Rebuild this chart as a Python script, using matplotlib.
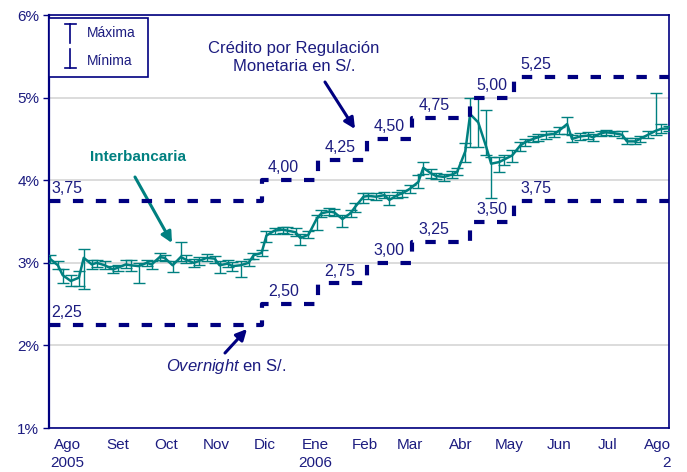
import numpy as np
import pandas as pd
import matplotlib
matplotlib.use('Agg')
import matplotlib.pyplot as plt
from matplotlib.patches import Rectangle
from matplotlib.lines import Line2D

plt.rcParams['font.family'] = ['Liberation Sans', 'DejaVu Sans']
plt.rcParams['mathtext.fontset'] = 'custom'
plt.rcParams['mathtext.it'] = 'Liberation Sans:italic'
plt.rcParams['mathtext.rm'] = 'Liberation Sans'

NAVY = '#000080'
TXT = '#1c1c80'
TEAL = '#008080'

##########################################
# Data
##########################################
# tasa interbancaria, one value every 3 business days from 21-Jul-2005
inter = [3.05, 2.97, 2.85, 2.78, 2.82, 3.06, 2.98, 3.00, 2.97, 2.92,
         2.94, 2.98, 2.97, 2.96, 3.00, 2.98, 3.07, 3.06, 2.97, 3.07,
         3.04, 3.00, 3.02, 3.06, 3.05, 2.97, 2.99, 2.96, 2.97, 3.00,
         3.09, 3.12, 3.33, 3.39, 3.40, 3.39, 3.37, 3.30, 3.34, 3.53,
         3.60, 3.62, 3.61, 3.53, 3.60, 3.68, 3.80, 3.81, 3.80, 3.82,
         3.76, 3.82, 3.84, 3.90, 3.98, 4.15, 4.08, 4.05, 4.04, 4.07,
         4.10, 4.35, 4.80, 4.70, 4.40, 4.20, 4.22, 4.25, 4.30, 4.42,
         4.46, 4.50, 4.52, 4.55, 4.56, 4.60, 4.68, 4.50, 4.53, 4.54,
         4.52, 4.57, 4.58, 4.57, 4.55, 4.47, 4.47, 4.50, 4.55, 4.60,
         4.62, 4.63]
inter_max = [3.09, 3.02, 2.92, 2.85, 2.90, 3.17, 3.03, 3.04, 3.02, 2.96,
             2.97, 3.03, 3.03, 3.00, 3.04, 3.02, 3.12, 3.10, 3.02, 3.25,
             3.09, 3.05, 3.07, 3.11, 3.08, 3.02, 3.04, 3.01, 3.02, 3.05,
             3.12, 3.16, 3.38, 3.42, 3.43, 3.43, 3.42, 3.35, 3.38, 3.58,
             3.64, 3.66, 3.65, 3.58, 3.64, 3.72, 3.85, 3.85, 3.84, 3.86,
             3.82, 3.86, 3.88, 3.94, 4.06, 4.22, 4.13, 4.09, 4.08, 4.11,
             4.15, 4.45, 5.00, 5.00, 4.85, 4.28, 4.28, 4.30, 4.36, 4.46,
             4.50, 4.54, 4.56, 4.59, 4.60, 4.64, 4.76, 4.55, 4.57, 4.58,
             4.56, 4.60, 4.61, 4.60, 4.59, 4.51, 4.51, 4.54, 4.59, 5.06,
             4.68, 4.66]
inter_min = [3.00, 2.92, 2.76, 2.72, 2.72, 2.68, 2.93, 2.95, 2.93, 2.88,
             2.90, 2.94, 2.90, 2.76, 2.96, 2.92, 3.03, 3.02, 2.89, 3.02,
             3.00, 2.95, 2.97, 3.02, 3.00, 2.88, 2.95, 2.90, 2.83, 2.96,
             3.05, 3.08, 3.25, 3.35, 3.36, 3.35, 3.33, 3.21, 3.30, 3.40,
             3.55, 3.58, 3.57, 3.43, 3.56, 3.62, 3.72, 3.77, 3.76, 3.78,
             3.70, 3.78, 3.80, 3.85, 3.90, 4.08, 4.03, 4.01, 3.99, 4.03,
             4.06, 4.22, 4.40, 4.40, 4.30, 3.78, 4.10, 4.18, 4.22, 4.35,
             4.42, 4.46, 4.48, 4.50, 4.52, 4.56, 4.56, 4.46, 4.49, 4.50,
             4.47, 4.53, 4.55, 4.53, 4.51, 4.44, 4.44, 4.46, 4.51, 4.55,
             4.57, 4.59]

# corridor: credito por regulacion monetaria / overnight
step_dates = ['2005-07-21', '2005-11-29', '2006-01-03', '2006-02-02',
              '2006-03-02', '2006-04-07', '2006-05-04']
credit = [3.75, 4.00, 4.25, 4.50, 4.75, 5.00, 5.25]
overnight = [2.25, 2.50, 2.75, 3.00, 3.25, 3.50, 3.75]
x_start = '2005-07-21'
x_end = '2006-08-08'

month_labels = ['Ago\n2005', 'Set', 'Oct', 'Nov', 'Dic', 'Ene\n2006', 'Feb',
                'Mar', 'Abr', 'May', 'Jun', 'Jul', 'Ago\n2']
y_ticks = [1, 2, 3, 4, 5, 6]

##########################################
# Figure
##########################################
dates = pd.bdate_range(x_start, periods=len(inter), freq='3B')
sdates = pd.to_datetime(step_dates)
end = pd.Timestamp(x_end)

fig = plt.figure(figsize=(6.87, 4.72), dpi=100)
ax = fig.add_axes([0.0713, 0.0932, 0.9025, 0.875])

vals = np.array(inter)
yerr = [vals - np.array(inter_min), np.array(inter_max) - vals]
ax.errorbar(dates, vals, yerr=yerr, fmt='-', color=TEAL, lw=1.8,
            elinewidth=1.0, capsize=4.5, capthick=1.0, zorder=3)

sx = list(sdates) + [end]
for rates in (credit, overnight):
    ax.step(sx, rates + [rates[-1]], where='post', color=NAVY, lw=3,
            ls=(0, (2.5, 3)), zorder=4)
    for d, r in zip(sdates, rates):
        ax.text(d + pd.Timedelta(days=4 if d > sdates[0] else 1), r + 0.06,
                f'{r:.2f}'.replace('.', ','), color=TXT, fontsize=11.5,
                ha='left', va='bottom', zorder=5)

ax.set_xlim(pd.Timestamp(x_start) - pd.Timedelta(hours=12), end)
ax.set_ylim(1, 6)
ax.set_yticks(y_ticks)
ax.set_yticklabels([f'{t}%' for t in y_ticks])
ax.set_xticks(pd.date_range('2005-08-01', '2006-08-01', freq='MS'))
ax.set_xticklabels(month_labels)
ax.get_xticklabels()[-1].set_multialignment('right')
for lbl in ax.get_xticklabels():
    lbl.set_linespacing(1.35)

ax.tick_params(axis='x', length=0, pad=7, labelsize=11, labelcolor=TXT)
ax.tick_params(axis='y', length=4, width=1, color=NAVY, pad=3,
               labelsize=11, labelcolor=TXT)
ax.grid(axis='y', color='#d9d9d9', lw=1.3)
ax.set_axisbelow(True)
for s in ax.spines.values():
    s.set_color(NAVY)
    s.set_linewidth(1.2)
ax.spines['left'].set_linewidth(1.6)


def px(x, y):
    # pixel position on the picture -> axes fraction
    return ((x - 49) / 620, (428 - y) / 413)


# annotations
ax.text(*px(138, 157), 'Interbancaria', transform=ax.transAxes, color=TEAL,
        fontsize=11, fontweight='bold', ha='center', va='center')
ax.annotate('', xy=px(172, 243), xytext=px(135, 177), xycoords='axes fraction',
            arrowprops=dict(arrowstyle='-|>', color=TEAL, lw=2.2,
                            mutation_scale=16, shrinkA=0, shrinkB=0))

ax.text(*px(294, 57), 'Crédito por Regulación\nMonetaria en S/.',
        transform=ax.transAxes, color=TXT, fontsize=12, ha='center',
        va='center', linespacing=1.25)
ax.annotate('', xy=px(355, 129), xytext=px(325, 82), xycoords='axes fraction',
            arrowprops=dict(arrowstyle='-|>', color=NAVY, lw=2.2,
                            mutation_scale=16, shrinkA=0, shrinkB=0))

ax.text(*px(226, 366), r'$\it{Overnight}$ en S/.', transform=ax.transAxes,
        color=TXT, fontsize=12, ha='center', va='center')
ax.annotate('', xy=px(247, 329), xytext=px(225, 353), xycoords='axes fraction',
            arrowprops=dict(arrowstyle='-|>', color=NAVY, lw=2.2,
                            mutation_scale=16, shrinkA=0, shrinkB=0))

# legend box (max / min markers)
x0, y0 = px(49, 77)
x1, y1 = px(148, 18)
ax.add_patch(Rectangle((x0, y0), x1 - x0, y1 - y0, transform=ax.transAxes,
                       fill=True, facecolor='white', edgecolor=NAVY, lw=1.2,
                       zorder=6))
for (ya, yb, ycap, label, ytxt) in [(24, 43, 24, 'Máxima', 33),
                                    (49, 68, 68, 'Mínima', 61)]:
    ax.add_line(Line2D([px(70.5, 0)[0]] * 2, [px(0, ya)[1], px(0, yb)[1]],
                       transform=ax.transAxes, color=NAVY, lw=1.2, zorder=7))
    ax.add_line(Line2D([px(65, 0)[0], px(76, 0)[0]], [px(0, ycap)[1]] * 2,
                       transform=ax.transAxes, color=NAVY, lw=1.2, zorder=7))
    ax.text(*px(87, ytxt), label, transform=ax.transAxes, color=TXT,
            fontsize=10, ha='left', va='center', zorder=7)

fig.savefig('out.png', dpi=100)
